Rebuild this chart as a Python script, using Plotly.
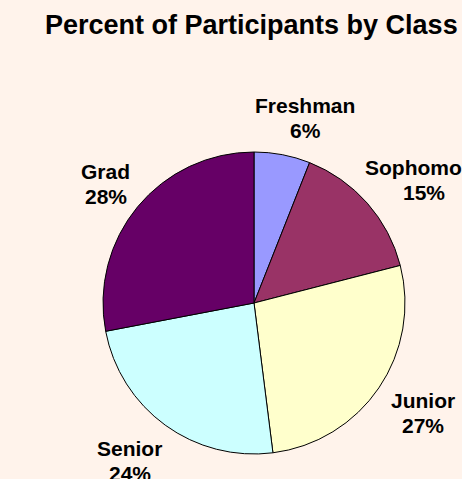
import math
import plotly.graph_objects as go

classes = ["Freshman", "Sophomore", "Junior", "Senior", "Grad"]
percents = [6, 15, 27, 24, 28]
colors = ["#9999FF", "#993366", "#FFFFCC", "#CCFFFF", "#660066"]
title_text = "Percent of Participants by Class"

W, H = 462, 479
cx, cy, R = 254, 303, 151
label_font = 21
line_h = 25

fig = go.Figure()
fig.add_trace(go.Pie(
    labels=classes, values=percents, sort=False, direction="clockwise",
    rotation=0, textinfo="none", hoverinfo="label+percent",
    marker=dict(colors=colors, line=dict(color="#000000", width=1)),
    domain=dict(x=[(cx - R) / W, (cx + R) / W], y=[(H - cy - R) / H, (H - cy + R) / H]),
    showlegend=False,
))

total = sum(percents)
cum = 0
annotations = []
font = dict(family="Liberation Sans, Arial", size=label_font, color="#000000")
for name, v in zip(classes, percents):
    mid = (cum + v / 2) / total * 2 * math.pi
    cum += v
    ux, uy = math.sin(mid), -math.cos(mid)
    w = label_font * 0.55 * len(name)
    h = 2 * line_h
    rg = R + 15
    px = cx + rg * ux + math.copysign(math.sqrt(abs(ux)), ux) * w / 2
    py = cy + rg * uy + uy * h / 2 + 3
    for txt, dy in ((name, -line_h / 2), (f"{round(v / total * 100)}%", line_h / 2)):
        annotations.append(dict(
            x=px / W, y=1 - (py + dy) / H, xref="paper", yref="paper",
            xanchor="center", yanchor="middle", showarrow=False,
            text=f"<b>{txt}</b>", font=font, align="center",
        ))

annotations.append(dict(
    x=252 / W, y=1 - 25 / H, xref="paper", yref="paper",
    xanchor="center", yanchor="middle", showarrow=False,
    text=f"<b>{title_text}</b>",
    font=dict(family="Liberation Sans, Arial", size=27, color="#000000"),
))

fig.update_layout(
    width=W, height=H, margin=dict(l=0, r=0, t=0, b=0),
    paper_bgcolor="#FFF3EB", plot_bgcolor="#FFF3EB",
    annotations=annotations,
)
fig.write_html("out.html")
